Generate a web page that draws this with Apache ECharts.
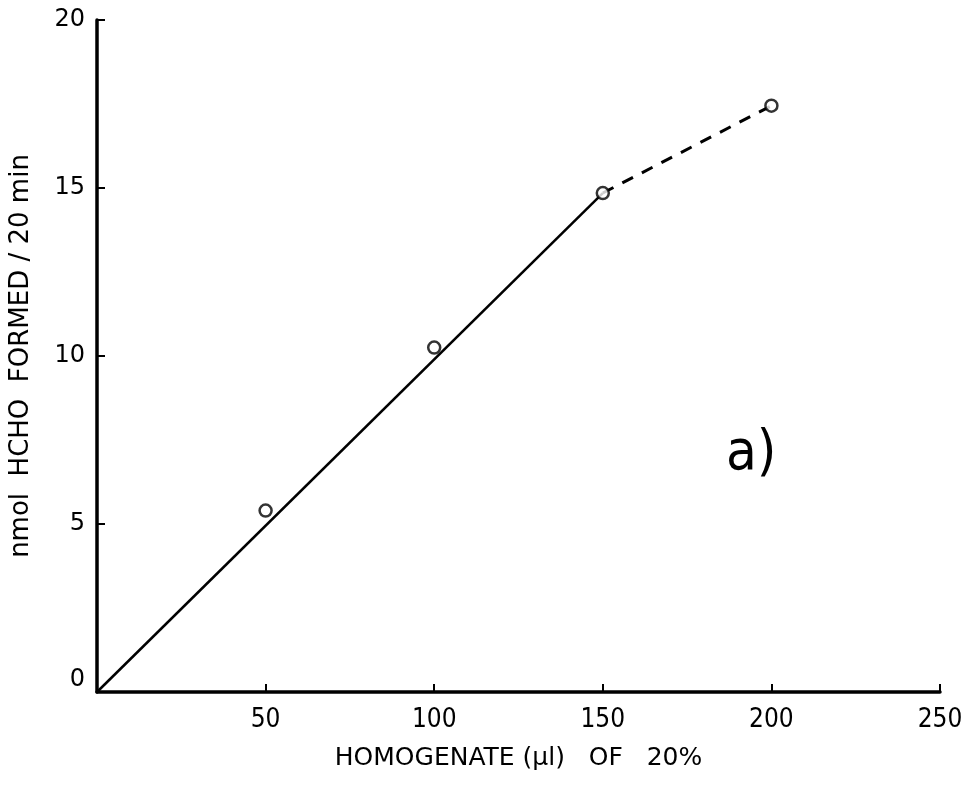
<!DOCTYPE html>
<html><head><meta charset="utf-8">
<script src="https://cdn.jsdelivr.net/npm/echarts@6/dist/echarts.min.js"></script>
<style>html,body{margin:0;padding:0;background:#fff}#c{width:969px;height:785px}</style>
</head><body><div id="c"></div>
<script>
const xTicks = [0, 50, 100, 150, 200, 250];
const yTicks = [0, 5, 10, 15, 20];
const pointsX = [50, 100, 150, 200];
const pointsY = [5.4, 10.25, 14.85, 17.45];
const solidLineX = [0, 150];
const solidLineY = [0, 14.85];
const dashedLineX = [150, 200];
const dashedLineY = [14.85, 17.45];
const xName = 'HOMOGENATE (µl)   OF   20%';
const yName = 'nmol  HCHO  FORMED / 20 min';
const panelLabel = 'a)';

const chart = echarts.init(document.getElementById('c'));
chart.setOption({
  backgroundColor: '#fff',
  animation: false,
  grid: { left: 97, top: 20, right: 29, bottom: 93, containLabel: false, outerBoundsMode: 'none' },
  xAxis: {
    type: 'value', min: 0, max: 250, interval: 50,
    name: xName, nameLocation: 'middle', nameGap: 54,
    nameTextStyle: { fontFamily: 'DejaVu Sans', fontSize: 25, color: '#000' },
    axisLine: { lineStyle: { color: '#000', width: 3.5 } },
    axisTick: { inside: true, length: 8, lineStyle: { color: '#000', width: 2 } },
    axisLabel: { fontFamily: 'DejaVu Sans Condensed', fontSize: 26, color: '#000', margin: 15,
      formatter: v => v === 0 ? '' : String(v) },
    splitLine: { show: false }
  },
  yAxis: {
    type: 'value', min: 0, max: 20, interval: 5,
    name: yName, nameLocation: 'middle', nameGap: 63, nameRotate: 90,
    nameTextStyle: { fontFamily: 'DejaVu Sans', fontSize: 26, color: '#000' },
    axisLine: { lineStyle: { color: '#000', width: 3.5 } },
    axisTick: { inside: true, length: 8, lineStyle: { color: '#000', width: 2 } },
    axisLabel: { fontFamily: 'DejaVu Sans', fontSize: 24, color: '#000', margin: 12,
      formatter: v => v === 0 ? '0\n' : String(v) },
    splitLine: { show: false }
  },
  series: [
    { type: 'line', data: solidLineX.map((x, i) => [x, solidLineY[i]]), symbol: 'none',
      lineStyle: { color: '#000', width: 2.5 }, z: 2 },
    { type: 'line', data: dashedLineX.map((x, i) => [x, dashedLineY[i]]), symbol: 'none',
      lineStyle: { color: '#000', width: 3, type: [12, 10] }, z: 2 },
    { type: 'scatter', data: pointsX.map((x, i) => [x, pointsY[i]]), symbol: 'circle', symbolSize: 12,
      itemStyle: { color: '#fff', borderColor: '#000', borderWidth: 2.5 }, z: 3 }
  ],
  graphic: [
    { type: 'text', left: 726, top: 426,
      style: { text: panelLabel, fontFamily: 'DejaVu Sans Condensed', fontSize: 56, fontWeight: 'lighter', fill: '#000' } }
  ]
});
</script></body></html>
